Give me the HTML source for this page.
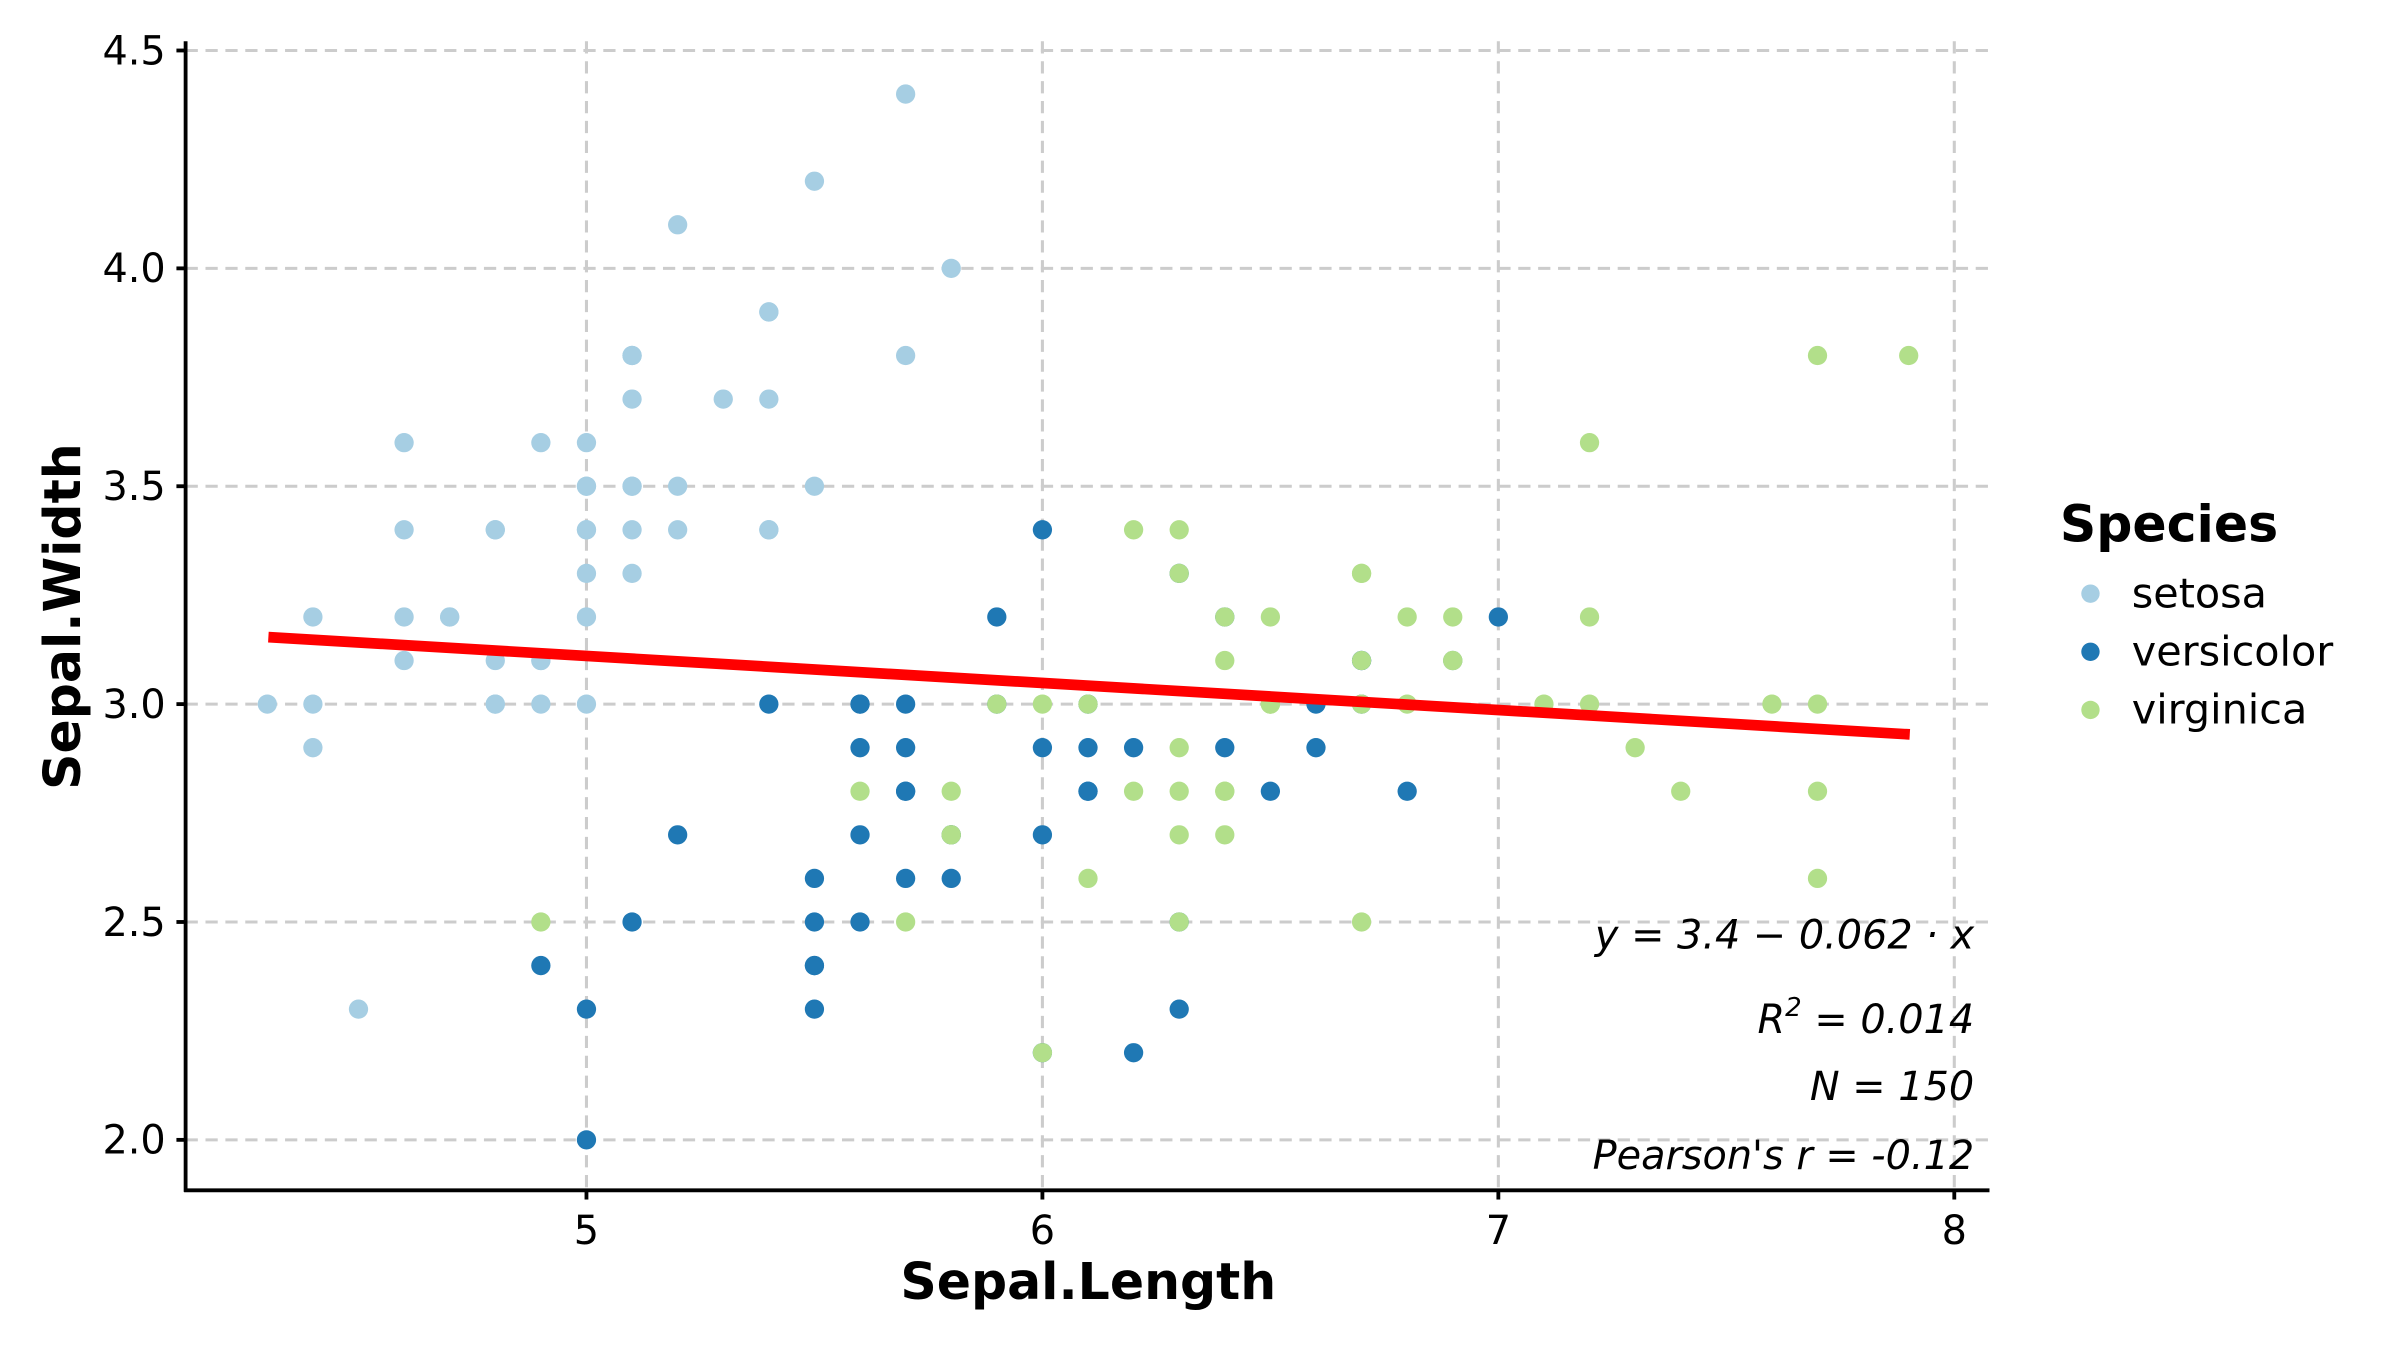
<!DOCTYPE html>
<html><head><meta charset="utf-8"><style>
html,body{margin:0;padding:0;background:#fff;}
svg{display:block;font-family:"DejaVu Sans","Liberation Sans",sans-serif;}
</style></head><body>
<svg id="s" width="2400" height="1351" viewBox="0 0 1568 883" xmlns="http://www.w3.org/2000/svg">
<rect width="1600" height="900" fill="#fff"/>
<g stroke="#cccccc" stroke-width="2" stroke-dasharray="8,5" fill="none">
<line x1="383" y1="27" x2="383" y2="778"/><line x1="681" y1="27" x2="681" y2="778"/>
<line x1="979" y1="27" x2="979" y2="778"/><line x1="1277" y1="27" x2="1277" y2="778"/>
<line x1="121" y1="745" x2="1300" y2="745"/><line x1="121" y1="602.6" x2="1300" y2="602.6"/>
<line x1="121" y1="460.2" x2="1300" y2="460.2"/><line x1="121" y1="317.8" x2="1300" y2="317.8"/>
<line x1="121" y1="175.4" x2="1300" y2="175.4"/><line x1="121" y1="33" x2="1300" y2="33"/>
</g>
<g id="pts"></g>
<line x1="175.1" y1="416.4" x2="1247.9" y2="480.0" stroke="#ff0000" stroke-width="7"/>
<g stroke="#000" stroke-width="2.5">
<line x1="121" y1="27" x2="121" y2="779"/><line x1="120" y1="778" x2="1300" y2="778"/>
<line x1="115" y1="745" x2="121" y2="745"/><line x1="115" y1="602.6" x2="121" y2="602.6"/>
<line x1="115" y1="460.2" x2="121" y2="460.2"/><line x1="115" y1="317.8" x2="121" y2="317.8"/>
<line x1="115" y1="175.4" x2="121" y2="175.4"/><line x1="115" y1="33" x2="121" y2="33"/>
<line x1="383" y1="778" x2="383" y2="784"/><line x1="681" y1="778" x2="681" y2="784"/>
<line x1="979" y1="778" x2="979" y2="784"/><line x1="1277" y1="778" x2="1277" y2="784"/>
</g>
<g font-size="26" fill="#000" text-anchor="end">
<text x="108" y="754">2.0</text><text x="108" y="611.6">2.5</text><text x="108" y="469.2">3.0</text>
<text x="108" y="326.8">3.5</text><text x="108" y="184.4">4.0</text><text x="108" y="42">4.5</text>
</g>
<g font-size="26" fill="#000" text-anchor="middle">
<text x="383" y="813">5</text><text x="681" y="813">6</text><text x="979" y="813">7</text><text x="1277" y="813">8</text>
</g>
<text x="711" y="849" font-size="33" font-weight="bold" text-anchor="middle">Sepal.Length</text>
<text transform="translate(52,403) rotate(-90)" font-size="33" font-weight="bold" text-anchor="middle">Sepal.Width</text>
<g font-size="26" font-style="italic" text-anchor="end">
<text x="1290" y="620">y = 3.4 − 0.062 · x</text>
<text x="1290" y="675">R<tspan dy="-11" font-size="17">2</tspan><tspan dy="11"> = 0.014</tspan></text>
<text x="1290" y="719">N = 150</text>
<text x="1290" y="764">Pearson's r = -0.12</text>
</g>
<text x="1346" y="354" font-size="33" font-weight="bold">Species</text>
<circle cx="1366" cy="388" r="6" fill="#a6cee3"/><circle cx="1366" cy="426" r="6" fill="#1f78b4"/><circle cx="1366" cy="464" r="6" fill="#b2df8a"/>
<g font-size="27"><text x="1393" y="397">setosa</text><text x="1393" y="435">versicolor</text><text x="1393" y="473">virginica</text></g>
</svg>
<script>
var d={"#a6cee3":"5.1,3.5;4.9,3.0;4.7,3.2;4.6,3.1;5.0,3.6;5.4,3.9;4.6,3.4;5.0,3.4;4.4,2.9;4.9,3.1;5.4,3.7;4.8,3.4;4.8,3.0;4.3,3.0;5.8,4.0;5.7,4.4;5.4,3.9;5.1,3.5;5.7,3.8;5.1,3.8;5.4,3.4;5.1,3.7;4.6,3.6;5.1,3.3;4.8,3.4;5.0,3.0;5.0,3.4;5.2,3.5;5.2,3.4;4.7,3.2;4.8,3.1;5.4,3.4;5.2,4.1;5.5,4.2;4.9,3.1;5.0,3.2;5.5,3.5;4.9,3.6;4.4,3.0;5.1,3.4;5.0,3.5;4.5,2.3;4.4,3.2;5.0,3.5;5.1,3.8;4.8,3.0;5.1,3.8;4.6,3.2;5.3,3.7;5.0,3.3",
"#1f78b4":"7.0,3.2;6.4,3.2;6.9,3.1;5.5,2.3;6.5,2.8;5.7,2.8;6.3,3.3;4.9,2.4;6.6,2.9;5.2,2.7;5.0,2.0;5.9,3.0;6.0,2.2;6.1,2.9;5.6,2.9;6.7,3.1;5.6,3.0;5.8,2.7;6.2,2.2;5.6,2.5;5.9,3.2;6.1,2.8;6.3,2.5;6.1,2.8;6.4,2.9;6.6,3.0;6.8,2.8;6.7,3.0;6.0,2.9;5.7,2.6;5.5,2.4;5.5,2.4;5.8,2.7;6.0,2.7;5.4,3.0;6.0,3.4;6.7,3.1;6.3,2.3;5.6,3.0;5.5,2.5;5.5,2.6;6.1,3.0;5.8,2.6;5.0,2.3;5.6,2.7;5.7,3.0;5.7,2.9;6.2,2.9;5.1,2.5;5.7,2.8",
"#b2df8a":"6.3,3.3;5.8,2.7;7.1,3.0;6.3,2.9;6.5,3.0;7.6,3.0;4.9,2.5;7.3,2.9;6.7,2.5;7.2,3.6;6.5,3.2;6.4,2.7;6.8,3.0;5.7,2.5;5.8,2.8;6.4,3.2;6.5,3.0;7.7,3.8;7.7,2.6;6.0,2.2;6.9,3.2;5.6,2.8;7.7,2.8;6.3,2.7;6.7,3.3;7.2,3.2;6.2,2.8;6.1,3.0;6.4,2.8;7.2,3.0;7.4,2.8;7.9,3.8;6.4,2.8;6.3,2.8;6.1,2.6;7.7,3.0;6.3,3.4;6.4,3.1;6.0,3.0;6.9,3.1;6.7,3.1;6.9,3.1;5.8,2.7;6.8,3.2;6.7,3.3;6.7,3.0;6.3,2.5;6.5,3.0;6.2,3.4;5.9,3.0"};
var h="";for(var c in d){d[c].split(";").forEach(function(p){var a=p.split(",");var x=383+(+a[0]-5)*298,y=745-(+a[1]-2)*284.8;h+='<circle cx="'+x+'" cy="'+y+'" r="6.3" fill="'+c+'"/>';});}
document.getElementById("pts").innerHTML=h;
</script>
</body></html>
